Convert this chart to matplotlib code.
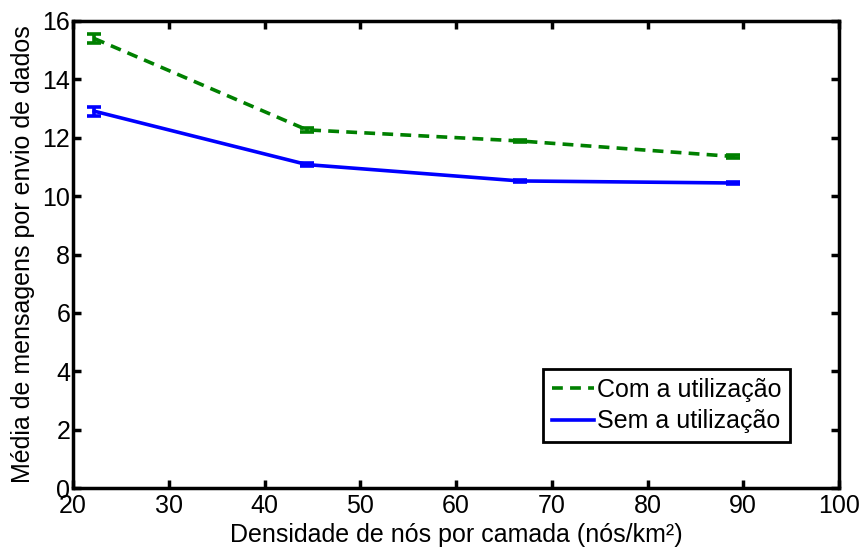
import matplotlib
matplotlib.use("Agg")
import matplotlib.pyplot as plt
from matplotlib.lines import Line2D

density = [22.22, 44.44, 66.67, 88.89]
com_util = [15.40, 12.27, 11.89, 11.36]
com_err = [0.17, 0.06, 0.05, 0.04]
sem_util = [12.91, 11.08, 10.52, 10.45]
sem_err = [0.15, 0.05, 0.04, 0.04]
xticks = [20, 30, 40, 50, 60, 70, 80, 90, 100]
yticks = [0, 2, 4, 6, 8, 10, 12, 14, 16]
labels = ['Com a utilização', 'Sem a utilização']

fig = plt.figure(figsize=(8.61, 5.52), dpi=100)
ax = fig.add_axes([73/861, 1-488/552, (839-73)/861, (488-21)/552])

font = ['Liberation Sans', 'DejaVu Sans']
green = '#008000'
blue = '#0000ff'

ax.errorbar(density, com_util, yerr=com_err, color=green, linestyle='--',
            linewidth=2.6, dashes=(3, 2), capsize=5, capthick=2.6, elinewidth=2.6)
ax.errorbar(density, sem_util, yerr=sem_err, color=blue, linestyle='-',
            linewidth=2.6, capsize=5, capthick=2.6, elinewidth=2.6)

ax.set_xlim(20, 100)
ax.set_ylim(0, 16)
ax.set_xticks(xticks)
ax.set_yticks(yticks)
ax.set_xticklabels([str(v) for v in xticks], family=font, fontsize=18)
ax.set_yticklabels([str(v) for v in yticks], family=font, fontsize=18)
ax.tick_params(direction='in', length=6, width=2.5, top=True, right=True)
ax.tick_params(axis='x', pad=4)
ax.tick_params(axis='y', pad=2)
for s in ax.spines.values():
    s.set_linewidth(2.5)

ax.set_xlabel('Densidade de nós por camada (nós/km²)', family=font, fontsize=18, labelpad=4)
ax.set_ylabel('Média de mensagens por envio de dados', family=font, fontsize=18, labelpad=5)

handles = [Line2D([], [], color=green, linestyle='--', dashes=(3, 2), linewidth=2.6),
           Line2D([], [], color=blue, linestyle='-', linewidth=2.6)]
leg = ax.legend(handles, labels, loc='lower right', bbox_to_anchor=(0.936, 0.098),
                prop={'family': font, 'size': 18},
                handlelength=1.7, handletextpad=0.1, borderpad=0.35, labelspacing=0.3,
                borderaxespad=0, fancybox=False, framealpha=1, edgecolor='black')
leg.get_frame().set_linewidth(2)

fig.savefig('out.png', dpi=100)
